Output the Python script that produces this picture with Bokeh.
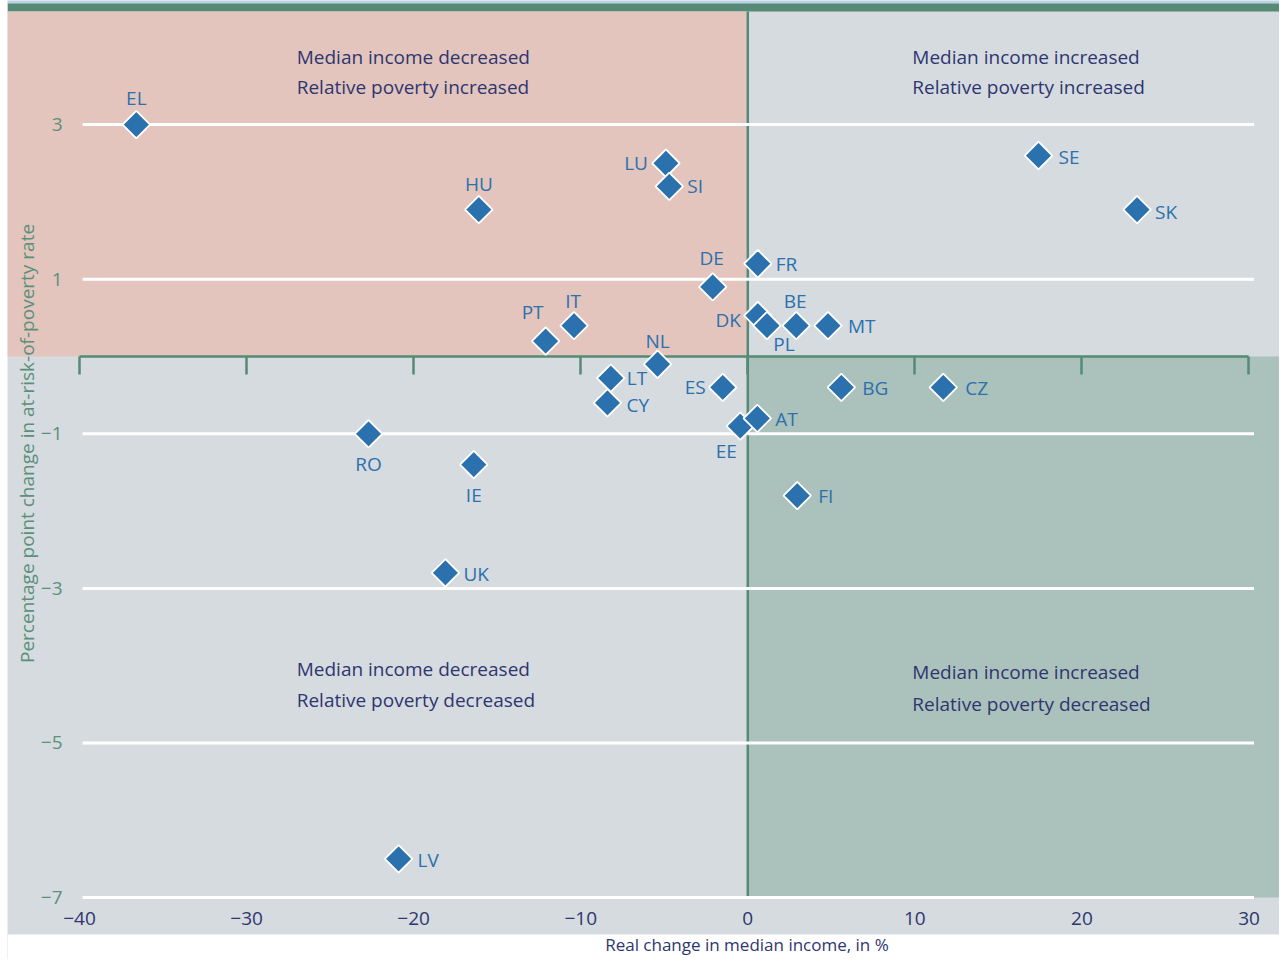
import math
from bokeh.plotting import figure
from bokeh.models import (ColumnDataSource, BoxAnnotation, LinearAxis, FixedTicker,
                          Label, Range1d)
from bokeh.core.properties import value
from bokeh.embed import file_html
from bokeh.resources import INLINE

# ---------------- data ----------------
countries = ["EL", "HU", "LU", "SI", "DE", "FR", "PT", "IT", "NL", "DK", "PL", "BE", "MT",
             "LT", "CY", "ES", "EE", "AT", "BG", "CZ", "FI", "RO", "IE", "UK", "LV", "SE", "SK"]
income_change = [-36.6, -16.1, -4.9, -4.7, -2.1, 0.6, -12.1, -10.4, -5.4, 0.6, 1.15, 2.9, 4.8,
                 -8.2, -8.4, -1.5, -0.45, 0.57, 5.6, 11.7, 2.96, -22.7, -16.4, -18.1, -20.9, 17.4, 23.3]
poverty_change = [3.0, 1.9, 2.5, 2.2, 0.9, 1.2, 0.2, 0.4, -0.1, 0.53, 0.4, 0.4, 0.4,
                  -0.28, -0.6, -0.4, -0.9, -0.8, -0.4, -0.4, -1.8, -1.0, -1.4, -2.8, -6.5, 2.6, 1.9]
x_ticks = [-40, -30, -20, -10, 0, 10, 20, 30]
y_ticks = [3, 1, -1, -3, -5, -7]
quadrant_titles = [
    ("Median income decreased", "Relative poverty increased"),
    ("Median income increased", "Relative poverty increased"),
    ("Median income decreased", "Relative poverty decreased"),
    ("Median income increased", "Relative poverty decreased"),
]
x_title = "Real change in median income, in %"
y_title = "Percentage point change in at-risk-of-poverty rate"

# ---------------- style ----------------
FONT = "Open Sans"
GREY = "#d6dbdf"
PINK = "#e3c5bd"
GREEN = "#abc1bb"
TEAL = "#558a77"
LIGHTBLUE = "#b9d2e5"
BLUE = "#2a71ad"
NAVY = "#2e3670"
YTXT = "#5b907c"

# label placement: (dx px, dy px, align)
label_pos = {
    "EL": (0, -27, "center"), "HU": (0, -26, "center"), "LU": (-18, 0, "right"),
    "SI": (18, 0, "left"), "DE": (-1, -29, "center"), "FR": (18, 0, "left"),
    "PT": (-13, -29, "center"), "IT": (-1, -25, "center"), "NL": (0, -23, "center"),
    "DK": (-17, 4, "right"), "PL": (17, 18, "center"), "BE": (-1, -25, "center"),
    "MT": (20, 0, "left"), "LT": (16, 0, "left"), "CY": (19, 2, "left"),
    "ES": (-17, 0, "right"), "EE": (-14, 25, "center"), "AT": (18, 1, "left"),
    "BG": (21, 1, "left"), "CZ": (22, 1, "left"), "FI": (21, 0, "left"),
    "RO": (0, 30, "center"), "IE": (0, 30, "center"), "UK": (18, 1, "left"),
    "LV": (19, 1, "left"), "SE": (20, 1, "left"), "SK": (18, 2, "left"),
}

src = ColumnDataSource(dict(
    x=income_change, y=poverty_change, code=countries,
    dx=[label_pos[c][0] for c in countries],
    dy=[label_pos[c][1] for c in countries],
    align=[label_pos[c][2] for c in countries],
))

X0, X1 = -44.311, 31.826
Y0, Y1 = -7.8008, 4.6054
PANEL_BOTTOM = -7.477
TEAL_TOP, TEAL_BOTTOM = 4.567, 4.463

p = figure(frame_width=1272, frame_height=959,
           x_range=Range1d(X0, X1), y_range=Range1d(Y0, Y1),
           output_backend="svg", toolbar_location=None,
           x_axis_location=None, y_axis_location=None,
           min_border=0, min_border_left=7,
           background_fill_color=GREY, border_fill_color="white",
           outline_line_color=None)
p.grid.visible = False

# backgrounds
def box(**kw):
    p.add_layout(BoxAnnotation(fill_alpha=1, line_color=None, level="image", **kw))

box(top=PANEL_BOTTOM, fill_color="white")
box(bottom=TEAL_TOP, fill_color=LIGHTBLUE)
box(bottom=TEAL_BOTTOM, top=TEAL_TOP, fill_color=TEAL)
box(right=0, bottom=0, top=TEAL_BOTTOM, fill_color=PINK)
box(left=0, top=0, bottom=min(y_ticks), fill_color=GREEN)

# vertical zero line
p.segment(x0=[0], x1=[0], y0=[min(y_ticks)], y1=[TEAL_BOTTOM], line_color=TEAL, line_width=2.5)

# gridlines
p.segment(x0=[-39.82] * len(y_ticks), x1=[30.3] * len(y_ticks), y0=y_ticks, y1=y_ticks,
          line_color="white", line_width=3)

# quadrant texts
qx = [-27, 9.85, -27, 9.85]
qy = [(3.88, 3.48), (3.88, 3.48), (-4.04, -4.45), (-4.08, -4.49)]
tx, ty, tt = [], [], []
for (l1, l2), x, (y1, y2) in zip(quadrant_titles, qx, qy):
    tx += [x, x]; ty += [y1, y2]; tt += [l1, l2]
p.text(x=tx, y=ty, text=tt, text_font=value(FONT), text_font_size="19px",
       text_color=NAVY, text_align="left", text_baseline="middle")

minus = lambda t: str(t).replace("-", "\u2212")

# x axis through zero, labels at bottom of panel
xa = LinearAxis(fixed_location=0, bounds=(min(x_ticks), max(x_ticks)),
                ticker=FixedTicker(ticks=x_ticks),
                major_label_overrides={t: minus(t) for t in x_ticks},
                axis_line_color=TEAL, axis_line_width=2.5,
                major_tick_line_color=TEAL, major_tick_line_width=2.5,
                major_tick_out=18, major_tick_in=0,
                minor_tick_out=0, minor_tick_in=0,
                major_label_standoff=538,
                major_label_text_font=FONT, major_label_text_font_size="19px",
                major_label_text_color=NAVY)
p.add_layout(xa, "below")

# y axis labels inside panel
ya = LinearAxis(fixed_location=min(x_ticks),
                ticker=FixedTicker(ticks=y_ticks),
                major_label_overrides={t: minus(t) for t in y_ticks},
                axis_line_color=None, major_tick_line_color=None,
                major_tick_out=0, major_tick_in=0, minor_tick_out=0, minor_tick_in=0,
                major_label_standoff=17,
                major_label_text_font=FONT, major_label_text_font_size="19px",
                major_label_text_color=YTXT)
p.add_layout(ya, "left")

p.add_layout(Label(x=-43.17, y=-1.125, text=y_title, angle=math.pi / 2,
                   text_align="center", text_baseline="middle",
                   text_font=FONT, text_font_size="19px", text_color=YTXT))

p.add_layout(Label(x=-0.05, y=-7.607, text=x_title,
                   text_align="center", text_baseline="middle",
                   text_font=FONT, text_font_size="17px", text_color=NAVY))

# points and labels
p.scatter("x", "y", source=src, marker="square", angle=math.pi / 4, size=19.5,
          fill_color=BLUE, line_color="white", line_width=1.8, level="overlay")
p.text("x", "y", text="code", source=src, x_offset="dx", y_offset="dy", text_align="align",
       text_baseline="middle", text_font=value(FONT), text_font_size="19px",
       text_color=BLUE, level="overlay")

open("out.html", "w").write(file_html(p, INLINE))
